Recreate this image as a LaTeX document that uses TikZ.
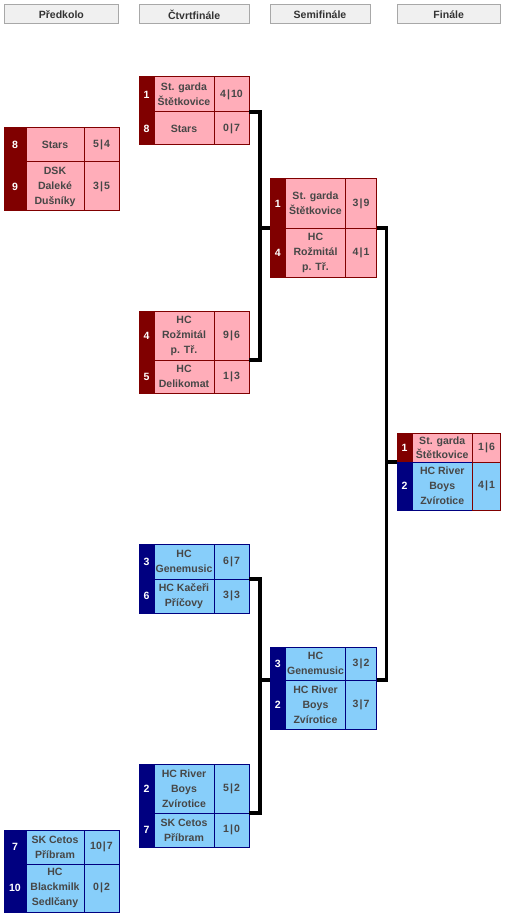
\documentclass[tikz,border=0pt]{standalone}
\usepackage{fontspec}
\setmainfont{Liberation Sans}
\definecolor{darkred}{HTML}{800000}
\definecolor{lightred}{HTML}{FFADB9}
\definecolor{darkblue}{HTML}{000080}
\definecolor{lightblue}{HTML}{87CEFA}
\definecolor{ink}{HTML}{474747}
\definecolor{hdrfill}{HTML}{F0F0F0}
\definecolor{hdrline}{HTML}{A8A8A8}
\newlength\pxu
\setlength\pxu{0.75pt}
\newcommand\goals[2]{#1\kern0.8pt|\kern0.8pt#2}

\begin{document}
\begin{tikzpicture}[x=0.75pt,y=-0.75pt,
  wd/.style={minimum width=#1\pxu},
  ht/.style={minimum height=#1\pxu},
  cell/.style={draw,anchor=north west,inner sep=0pt,outer sep=0pt,line width=0.75pt,
    align=center,text=ink,font=\bfseries\fontsize{7.9}{11.25}\selectfont},
  rseed/.style={cell,fill=darkred,draw=darkred,text=white},
  rcell/.style={cell,fill=lightred,draw=darkred},
  bseed/.style={cell,fill=darkblue,draw=darkblue,text=white},
  bcell/.style={cell,fill=lightblue,draw=darkblue},
  hdr/.style={cell,fill=hdrfill,draw=hdrline,text=black!80,minimum height=19\pxu},
  link/.style={line width=2.6pt,line join=miter}]
  \useasboundingbox (0,0) rectangle (506,916);

  % headings
  \node[hdr,wd=114.7] (h1) at (4,5) {Předkolo};
  \node[hdr,wd=110.3] (h2) at (139,5) {Čtvrtfinále};
  \node[hdr,wd=100] (h3) at (270,5) {Semifinále};
  \node[hdr,wd=103.4] (h4) at (397,5) {Finále};

  % predkolo
  \node[rseed,wd=22,ht=34] (p1a) at (4,128) {8};
  \node[rcell,wd=58,ht=34] (p1an) at (p1a.north east) {Stars};
  \node[rcell,wd=35,ht=34] (p1as) at (p1an.north east) {\goals{5}{4}};
  \node[rseed,wd=22,ht=49] (p1b) at (p1a.south west) {9};
  \node[rcell,wd=58,ht=49] (p1bn) at (p1b.north east) {DSK\\Daleké\\Dušníky};
  \node[rcell,wd=35,ht=49] (p1bs) at (p1bn.north east) {\goals{3}{5}};

  \node[bseed,wd=22,ht=34] (p2a) at (4,830) {7};
  \node[bcell,wd=58,ht=34] (p2an) at (p2a.north east) {SK Cetos\\Příbram};
  \node[bcell,wd=35,ht=34] (p2as) at (p2an.north east) {\goals{10}{7}};
  \node[bseed,wd=22,ht=48] (p2b) at (p2a.south west) {10};
  \node[bcell,wd=58,ht=48] (p2bn) at (p2b.north east) {HC\\Blackmilk\\Sedlčany};
  \node[bcell,wd=35,ht=48] (p2bs) at (p2bn.north east) {\goals{0}{2}};

  % ctvrtfinale
  \node[rseed,wd=15,ht=35] (q1a) at (139,77) {1};
  \node[rcell,wd=60,ht=35] (q1an) at (q1a.north east) {St. garda\\Štětkovice};
  \node[rcell,wd=35,ht=35] (q1as) at (q1an.north east) {\goals{4}{10}};
  \node[rseed,wd=15,ht=33] (q1b) at (q1a.south west) {8};
  \node[rcell,wd=60,ht=33] (q1bn) at (q1b.north east) {Stars};
  \node[rcell,wd=35,ht=33] (q1bs) at (q1bn.north east) {\goals{0}{7}};

  \node[rseed,wd=15,ht=49] (q2a) at (139,311) {4};
  \node[rcell,wd=60,ht=49] (q2an) at (q2a.north east) {HC\\Rožmitál\\p. Tř.};
  \node[rcell,wd=35,ht=49] (q2as) at (q2an.north east) {\goals{9}{6}};
  \node[rseed,wd=15,ht=33] (q2b) at (q2a.south west) {5};
  \node[rcell,wd=60,ht=33] (q2bn) at (q2b.north east) {HC\\Delikomat};
  \node[rcell,wd=35,ht=33] (q2bs) at (q2bn.north east) {\goals{1}{3}};

  \node[bseed,wd=15,ht=35] (q3a) at (139,544) {3};
  \node[bcell,wd=60,ht=35] (q3an) at (q3a.north east) {HC\\Genemusic};
  \node[bcell,wd=35,ht=35] (q3as) at (q3an.north east) {\goals{6}{7}};
  \node[bseed,wd=15,ht=34] (q3b) at (q3a.south west) {6};
  \node[bcell,wd=60,ht=34] (q3bn) at (q3b.north east) {HC Kačeři\\Příčovy};
  \node[bcell,wd=35,ht=34] (q3bs) at (q3bn.north east) {\goals{3}{3}};

  \node[bseed,wd=15,ht=49] (q4a) at (139,764) {2};
  \node[bcell,wd=60,ht=49] (q4an) at (q4a.north east) {HC River\\Boys\\Zvírotice};
  \node[bcell,wd=35,ht=49] (q4as) at (q4an.north east) {\goals{5}{2}};
  \node[bseed,wd=15,ht=34] (q4b) at (q4a.south west) {7};
  \node[bcell,wd=60,ht=34] (q4bn) at (q4b.north east) {SK Cetos\\Příbram};
  \node[bcell,wd=35,ht=34] (q4bs) at (q4bn.north east) {\goals{1}{0}};

  % semifinale
  \node[rseed,wd=15.5,ht=49] (s1a) at (270,179) {1};
  \node[rcell,wd=60,ht=49] (s1an) at (s1a.north east) {St. garda\\Štětkovice};
  \node[rcell,wd=31,ht=49] (s1as) at (s1an.north east) {\goals{3}{9}};
  \node[rseed,wd=15.5,ht=49] (s1b) at (s1a.south west) {4};
  \node[rcell,wd=60,ht=49] (s1bn) at (s1b.north east) {HC\\Rožmitál\\p. Tř.};
  \node[rcell,wd=31,ht=49] (s1bs) at (s1bn.north east) {\goals{4}{1}};

  \node[bseed,wd=15.5,ht=33] (s2a) at (270,647) {3};
  \node[bcell,wd=60,ht=33] (s2an) at (s2a.north east) {HC\\Genemusic};
  \node[bcell,wd=31,ht=33] (s2as) at (s2an.north east) {\goals{3}{2}};
  \node[bseed,wd=15.5,ht=49] (s2b) at (s2a.south west) {2};
  \node[bcell,wd=60,ht=49] (s2bn) at (s2b.north east) {HC River\\Boys\\Zvírotice};
  \node[bcell,wd=31,ht=49] (s2bs) at (s2bn.north east) {\goals{3}{7}};

  % finale
  \node[rseed,wd=15,ht=29] (fa) at (397,433) {1};
  \node[rcell,wd=60.5,ht=29,font=\bfseries\fontsize{7.9}{10.5}\selectfont] (fan) at (fa.north east) {St. garda\\Štětkovice};
  \node[rcell,wd=28,ht=29] (fas) at (fan.north east) {\goals{1}{6}};
  \node[bseed,wd=15,ht=48] (fb) at (fa.south west) {2};
  \node[bcell,wd=60.5,ht=48] (fbn) at (fb.north east) {HC River\\Boys\\Zvírotice};
  \node[bcell,wd=28,ht=48,draw=darkred] (fbs) at (fbn.north east) {\goals{4}{1}};

  % connectors
  \draw[link] (q1as.south east) -- ++(11,0) coordinate (k1) |- (q2as.south east);
  \draw[link] (s1a.south west) -- (s1a.south west -| k1);
  \draw[link] (q3as.south east) -- ++(11,0) coordinate (k2) |- (q4as.south east);
  \draw[link] (s2a.south west) -- (s2a.south west -| k2);
  \draw[link] (s1as.south east) -- ++(10,0) coordinate (k3) |- (s2as.south east);
  \draw[link] (fa.south west) -- (fa.south west -| k3);
\end{tikzpicture}
\end{document}
